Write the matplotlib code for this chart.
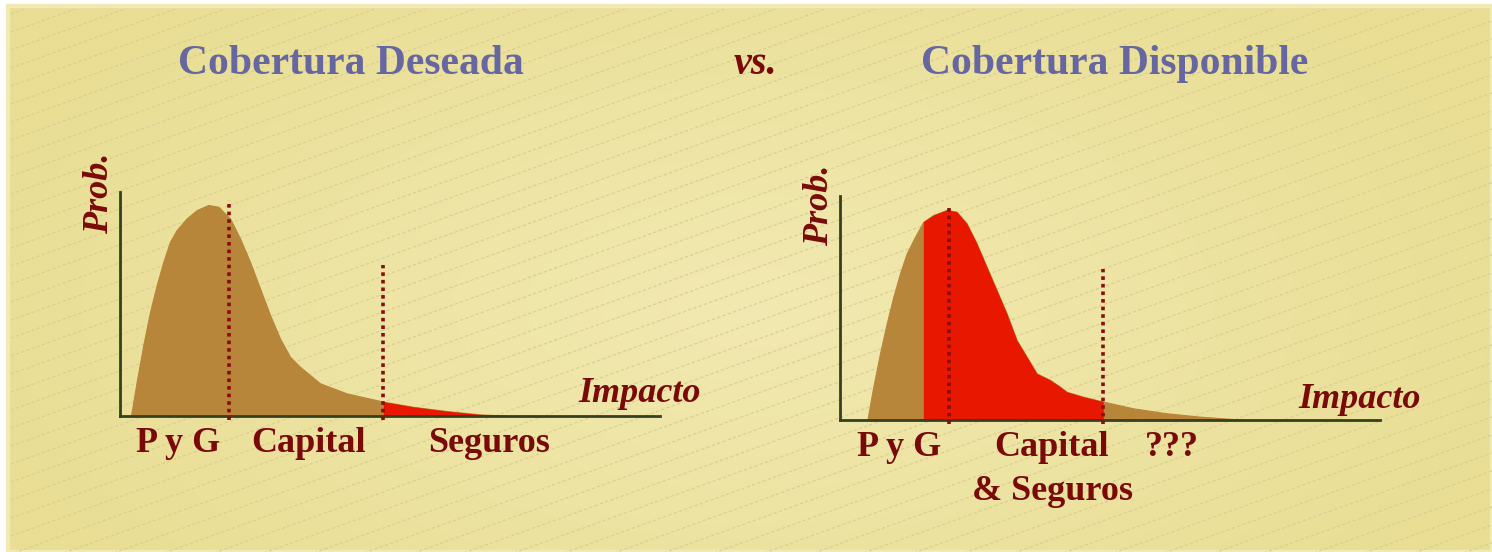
import matplotlib
matplotlib.use("Agg")
import matplotlib.pyplot as plt
import numpy as np

W, H = 1492, 552

# Left panel: desired coverage (impact units 0-10, prob 0-1)
left_x = [0.204, 0.309, 0.431, 0.556, 0.680, 0.802, 0.926, 1.050, 1.235, 1.420,
          1.635, 1.820, 2.037, 2.222, 2.407, 2.593, 2.778, 2.963, 3.148, 3.333,
          3.519, 3.704, 4.198, 4.876, 5.431, 6.050, 6.667, 7.161]
left_y = [0.0, 0.151, 0.315, 0.464, 0.584, 0.688, 0.778, 0.830, 0.882, 0.919,
          0.942, 0.934, 0.882, 0.793, 0.688, 0.569, 0.450, 0.345, 0.263, 0.218,
          0.181, 0.144, 0.099, 0.062, 0.039, 0.020, 0.005, 0.0]
left_red = (4.876, 10)
left_marks = [2.02, 4.876]      # P y G | Capital | Seguros
left_marks_top = [0.964, 0.673]

# Right panel: available coverage
right_x = [0.506, 0.617, 0.741, 0.865, 0.987, 1.111, 1.235, 1.389, 1.543, 1.728,
           1.976, 2.161, 2.346, 2.531, 2.717, 2.902, 3.087, 3.272, 3.457, 3.643,
           3.889, 4.074, 4.198, 4.506, 4.876, 5.431, 6.050, 6.667, 7.531]
right_y = [0.0, 0.149, 0.298, 0.432, 0.550, 0.655, 0.744, 0.818, 0.885, 0.915,
           0.938, 0.930, 0.878, 0.789, 0.684, 0.580, 0.476, 0.357, 0.283, 0.208,
           0.179, 0.149, 0.126, 0.104, 0.082, 0.052, 0.030, 0.015, 0.0]
right_red = (1.543, 4.876)
right_marks = [2.02, 4.876]
right_marks_top = [0.96, 0.674]

TAN = "#b8863a"
RED = "#e81800"
DARKRED = "#7a0a0a"
DOTS = "#8a0c0c"
AXCOL = "#34401f"
TITLE = "#6666a0"
SERIF = "Liberation Serif"

fig = plt.figure(figsize=(W / 100, H / 100), dpi=100)
fig.patch.set_facecolor("white")

# background axes in pixel coordinates
bg = fig.add_axes([0, 0, 1, 1])
bg.set_xlim(0, W)
bg.set_ylim(H, 0)
bg.axis("off")

x0, y0 = 8, 6
yy, xx = np.mgrid[0:H, 0:W]
r = np.sqrt(((xx - W * 0.5) / (W * 0.55)) ** 2 + ((yy - H * 0.55) / (H * 0.75)) ** 2)
r = np.clip(r, 0, 1)
c_in = np.array([242, 233, 178]) / 255
c_out = np.array([233, 222, 148]) / 255
img = c_in[None, None, :] * (1 - r[..., None]) + c_out[None, None, :] * r[..., None]
bg.imshow(img, extent=[x0, W, H, y0], aspect="auto", zorder=0)
bg.add_patch(plt.Rectangle((x0, y0), W - x0, H - y0, fill=False,
                           ec="#f2eab4", lw=3, zorder=1))
clip = plt.Rectangle((x0 + 3, y0 + 3), W, H, transform=bg.transData)
slope = 0.36
for b in np.arange(0, H + slope * W + 20, 18):
    ln, = bg.plot([0, W], [b, b - slope * W], color="#d9cd90", lw=0.8,
                  ls=(0, (3, 2)), zorder=1)
    ln.set_clip_path(clip)


def panel(rect, xs, ys, red_span, marks, tops):
    ax = fig.add_axes(rect)
    ax.set_xlim(0, 10)
    ax.set_ylim(0, 1)
    ax.patch.set_alpha(0)
    for s in ("top", "right"):
        ax.spines[s].set_visible(False)
    for s in ("left", "bottom"):
        ax.spines[s].set_color(AXCOL)
        ax.spines[s].set_linewidth(2)
        ax.spines[s].set_zorder(5)
    ax.set_xticks([])
    ax.set_yticks([])
    xs = np.array(xs)
    ys = np.array(ys)
    ax.fill_between(xs, 0, ys, color=TAN, lw=0.8, ec=TAN, zorder=2)
    lo, hi = red_span
    m = (xs > lo) & (xs < hi)
    rx = np.concatenate([[lo], xs[m], [min(hi, xs[-1])]])
    ry = np.concatenate([[np.interp(lo, xs, ys)], ys[m],
                         [np.interp(min(hi, xs[-1]), xs, ys)]])
    ax.fill_between(rx, 0, ry, color=RED, lw=0, zorder=3)
    for xv, top in zip(marks, tops):
        ax.plot([xv, xv], [-0.02, top], color=DOTS, lw=2.6,
                ls=(0, (1, 1.1)), solid_capstyle="butt", zorder=6, clip_on=False)
    return ax


panel([120 / W, 1 - 415.5 / H, 540 / W, 223.5 / H], left_x, left_y,
      left_red, left_marks, left_marks_top)
panel([840 / W, 1 - 420 / H, 540 / W, 224 / H], right_x, right_y,
      right_red, right_marks, right_marks_top)

tkw = dict(family=SERIF, fontweight="bold", zorder=10)
bg.text(351, 64, "Cobertura Deseada", color=TITLE, fontsize=30, ha="center", va="center", **tkw)
bg.text(1115, 64, "Cobertura Disponible", color=TITLE, fontsize=30, ha="center", va="center", **tkw)
bg.text(755, 64, "vs.", color=DARKRED, fontsize=29, style="italic", ha="center", va="center", **tkw)

for xp, yp in ((100, 193), (820, 205)):
    bg.text(xp, yp, "Prob.", color=DARKRED, fontsize=26, style="italic", rotation=90,
            ha="center", va="center", **tkw)
for xp, yp in ((640, 394), (1360, 400)):
    bg.text(xp, yp, "Impacto", color=DARKRED, fontsize=26, style="italic",
            ha="center", va="center", **tkw)

labels = [("P y G", 178, 443), ("Capital", 309, 443), ("Seguros", 489, 443),
          ("P y G", 899, 448), ("Capital", 1052, 448), ("???", 1172, 448),
          ("& Seguros", 1053, 492)]
for s, xp, yp in labels:
    bg.text(xp, yp, s, color=DARKRED, fontsize=26, ha="center", va="center", **tkw)

fig.savefig("out.png", dpi=100, facecolor="white")
